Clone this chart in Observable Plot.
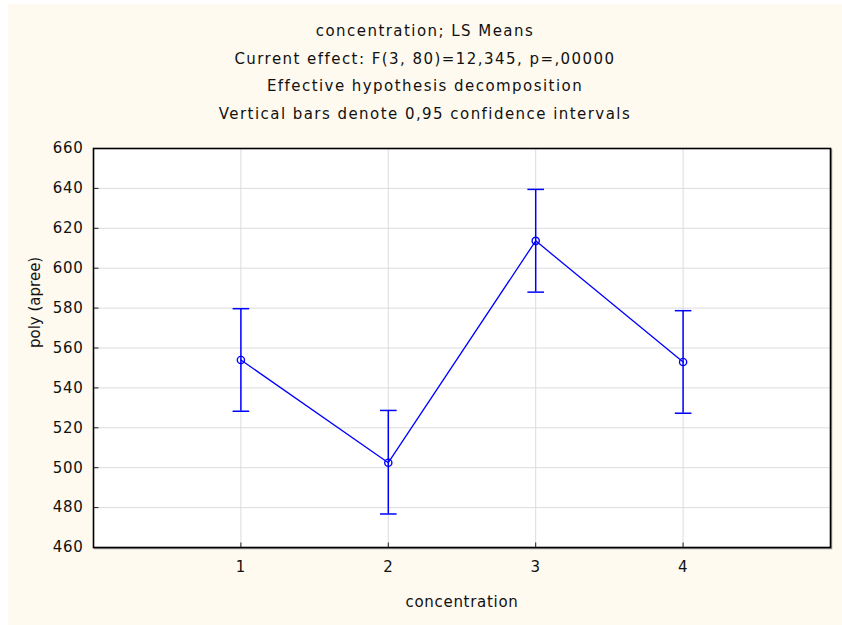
<!DOCTYPE html>
<html>
<head>
<meta charset="utf-8">
<script src="https://cdn.jsdelivr.net/npm/d3@7"></script>
<script src="https://cdn.jsdelivr.net/npm/@observablehq/plot@0.6"></script>
<style>
  html { margin: 0; padding: 0; background: #fffaf0; }
  body { margin: 0; padding: 0; width: 842px; height: 625px; background: #fffaf0; position: relative; overflow: hidden; font-family: "DejaVu Sans", sans-serif; }
  .strip-top { position: absolute; left: 0; top: 0; width: 842px; height: 4px; background: #fff; }
  .strip-left { position: absolute; left: 0; top: 0; width: 8px; height: 625px; background: #fff; }
  #title { position: absolute; left: 8px; top: 18px; width: 834px; text-align: center; font-size: 15px; line-height: 27.7px; letter-spacing: 1.45px; color: #111; }
  #chart { position: absolute; left: 0; top: 130px; }
  #chart svg text { letter-spacing: 0.7px; }
</style>
</head>
<body>
<div class="strip-top"></div>
<div class="strip-left"></div>
<div id="title">
  <div>concentration; LS Means</div>
  <div>Current effect: F(3, 80)=12,345, p=,00000</div>
  <div>Effective hypothesis decomposition</div>
  <div>Vertical bars denote 0,95 confidence intervals</div>
</div>
<div id="chart"></div>
<script>
const concentration = [1, 2, 3, 4];
const means = [554, 502.5, 613.7, 553];
const lower = [528.3, 476.8, 588.0, 527.3];
const upper = [579.7, 528.7, 639.5, 578.7];
const xTicks = [1, 2, 3, 4];
const yTicks = [460, 480, 500, 520, 540, 560, 580, 600, 620, 640, 660];
const xLabel = "concentration";
const yLabel = "poly (apree)";

const rows = concentration.map((c, i) => ({c, mean: means[i], lo: lower[i], hi: upper[i]}));

const capSym = {draw(ctx, size) { const r = Math.sqrt(size / Math.PI); ctx.moveTo(-r, 0); ctx.lineTo(r, 0); }};
const tickRight = {draw(ctx, size) { const r = Math.sqrt(size / Math.PI); ctx.moveTo(0, 0); ctx.lineTo(r, 0); }};
const tickUp = {draw(ctx, size) { const r = Math.sqrt(size / Math.PI); ctx.moveTo(0, 0); ctx.lineTo(0, -r); }};

const blue = "#0000ff";
const chart = Plot.plot({
  width: 842,
  height: 495,
  marginLeft: 93,
  marginRight: 12,
  marginTop: 18,
  marginBottom: 78,
  style: {fontFamily: "DejaVu Sans, sans-serif", fontSize: "15px", background: "transparent", color: "#111", overflow: "visible"},
  x: {domain: [0, 5], ticks: xTicks, tickFormat: d3.format("d"), tickSize: 0, tickPadding: 14, label: null},
  y: {domain: [460, 660], ticks: yTicks, tickFormat: d3.format("d"), tickSize: 0, tickPadding: 10, label: null},
  marks: [
    Plot.frame({fill: "white", stroke: "#9a9a9a", strokeWidth: 1.5, dx: 1, dy: 1}),
    Plot.frame({fill: "white"}),
    Plot.ruleY(yTicks.slice(1, -1), {y: d => d, stroke: "#dcdcdc", strokeWidth: 1}),
    Plot.ruleX(xTicks, {x: d => d, stroke: "#dcdcdc", strokeWidth: 1}),
    Plot.dot(yTicks, {y: d => d, frameAnchor: "left", symbol: tickRight, r: 5, stroke: "#222", fill: "none", strokeWidth: 1}),
    Plot.dot(xTicks, {x: d => d, frameAnchor: "bottom", symbol: tickUp, r: 5, stroke: "#222", fill: "none", strokeWidth: 1}),
    Plot.frame({stroke: "#000", strokeWidth: 1.6}),
    Plot.ruleX(rows, {x: "c", y1: "lo", y2: "hi", stroke: blue, strokeWidth: 1.5}),
    Plot.dot(rows, {x: "c", y: "hi", symbol: capSym, r: 8.3, stroke: blue, fill: "none", strokeWidth: 1.5}),
    Plot.dot(rows, {x: "c", y: "lo", symbol: capSym, r: 8.3, stroke: blue, fill: "none", strokeWidth: 1.5}),
    Plot.line(rows, {x: "c", y: "mean", stroke: blue, strokeWidth: 1.3}),
    Plot.dot(rows, {x: "c", y: "mean", r: 3.6, stroke: blue, fill: "none", strokeWidth: 1.4}),
    Plot.text([xLabel], {frameAnchor: "bottom", dy: 59, text: d => d, fontSize: 15, fill: "#111"}),
    Plot.text([yLabel], {frameAnchor: "left", dx: -58, rotate: -90, text: d => d, fontSize: 15, fill: "#111"})
  ]
});
document.getElementById("chart").appendChild(chart);
d3.select(chart).selectAll("text").filter(function() { return this.textContent === yLabel; }).style("letter-spacing", "0px");
</script>
</body>
</html>
